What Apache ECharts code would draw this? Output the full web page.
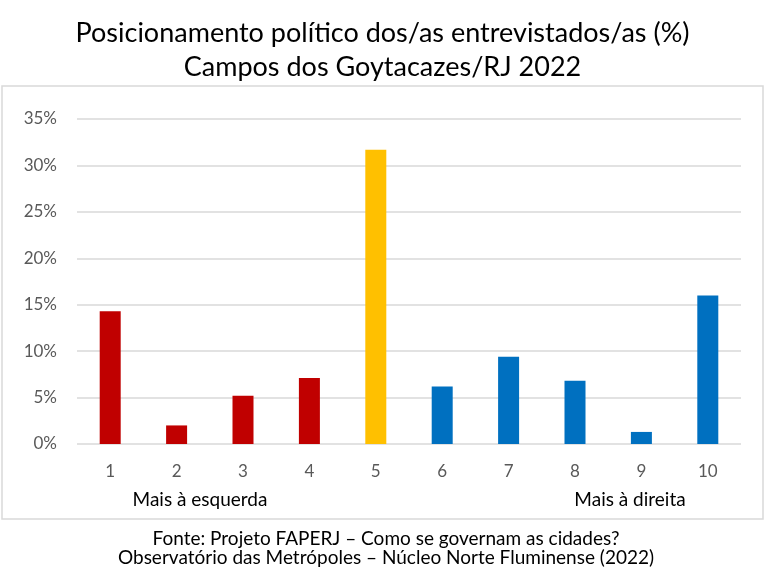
<!DOCTYPE html>
<html>
<head>
<meta charset="utf-8">
<script src="https://cdn.jsdelivr.net/npm/echarts@6/dist/echarts.min.js"></script>
<style>
  html, body { margin: 0; padding: 0; background: #fff; }
  #chart { width: 765px; height: 588px; }
</style>
</head>
<body>
<div id="chart"></div>
<script>
// posição na escala (1 = esquerda, 10 = direita)
var categories = ['1', '2', '3', '4', '5', '6', '7', '8', '9', '10']
var values = [14.3, 2.0, 5.2, 7.1, 31.7, 6.2, 9.4, 6.8, 1.3, 16.0]
var barColors = ['#c00000', '#c00000', '#c00000', '#c00000', '#ffc000',
  '#0070c0', '#0070c0', '#0070c0', '#0070c0', '#0070c0']
var titleLines = ['Posicionamento político dos/as entrevistados/as (%)', 'Campos dos Goytacazes/RJ 2022']
var footerLines = ['Fonte: Projeto FAPERJ – Como se governam as cidades?',
  'Observatório das Metrópoles – Núcleo Norte Fluminense (2022)']

var font = 'Lato, "Noto Sans", sans-serif'
var chart = echarts.init(document.getElementById('chart'))

var option = {
  backgroundColor: '#fff',
  textStyle: { fontFamily: font },
  title: {
    text: titleLines.join('\n'),
    left: 'center',
    top: 11,
    textStyle: { fontSize: 27, fontWeight: 'normal', color: '#000', lineHeight: 34, fontFamily: font }
  },
  grid: { left: 77, right: 24, top: 119, bottom: 144 },
  xAxis: {
    type: 'category',
    data: categories,
    axisLine: { show: false },
    axisTick: { show: false },
    axisLabel: { color: '#595959', fontSize: 17, margin: 19, fontFamily: font }
  },
  yAxis: {
    type: 'value',
    min: 0,
    max: 35,
    interval: 5,
    axisLine: { show: false },
    axisTick: { show: false },
    axisLabel: { formatter: '{value}%', color: '#595959', fontSize: 17, margin: 20, fontFamily: font },
    splitLine: { lineStyle: { color: '#d9d9d9', width: 1.5 } }
  },
  series: [
    {
      type: 'bar',
      barWidth: 21,
      data: values.map(function (v, i) {
        return { value: v, itemStyle: { color: barColors[i] } }
      })
    }
  ],
  graphic: [
    {
      type: 'rect',
      shape: { x: 2, y: 86, width: 761, height: 433 },
      style: { fill: 'none', stroke: '#d9d9d9', lineWidth: 1.5 },
      z: -1
    },
    {
      type: 'text',
      x: 200, y: 500,
      style: { text: 'Mais à esquerda', fill: '#000', font: '19px ' + font, textAlign: 'center', textVerticalAlign: 'middle' }
    },
    {
      type: 'text',
      x: 630, y: 500,
      style: { text: 'Mais à direita', fill: '#000', font: '19px ' + font, textAlign: 'center', textVerticalAlign: 'middle' }
    },
    {
      type: 'text',
      x: 386, y: 529,
      style: { text: footerLines.join('\n'), fill: '#000', font: '19px ' + font, textAlign: 'center', lineHeight: 19 }
    }
  ]
}

chart.setOption(option)
</script>
</body>
</html>
